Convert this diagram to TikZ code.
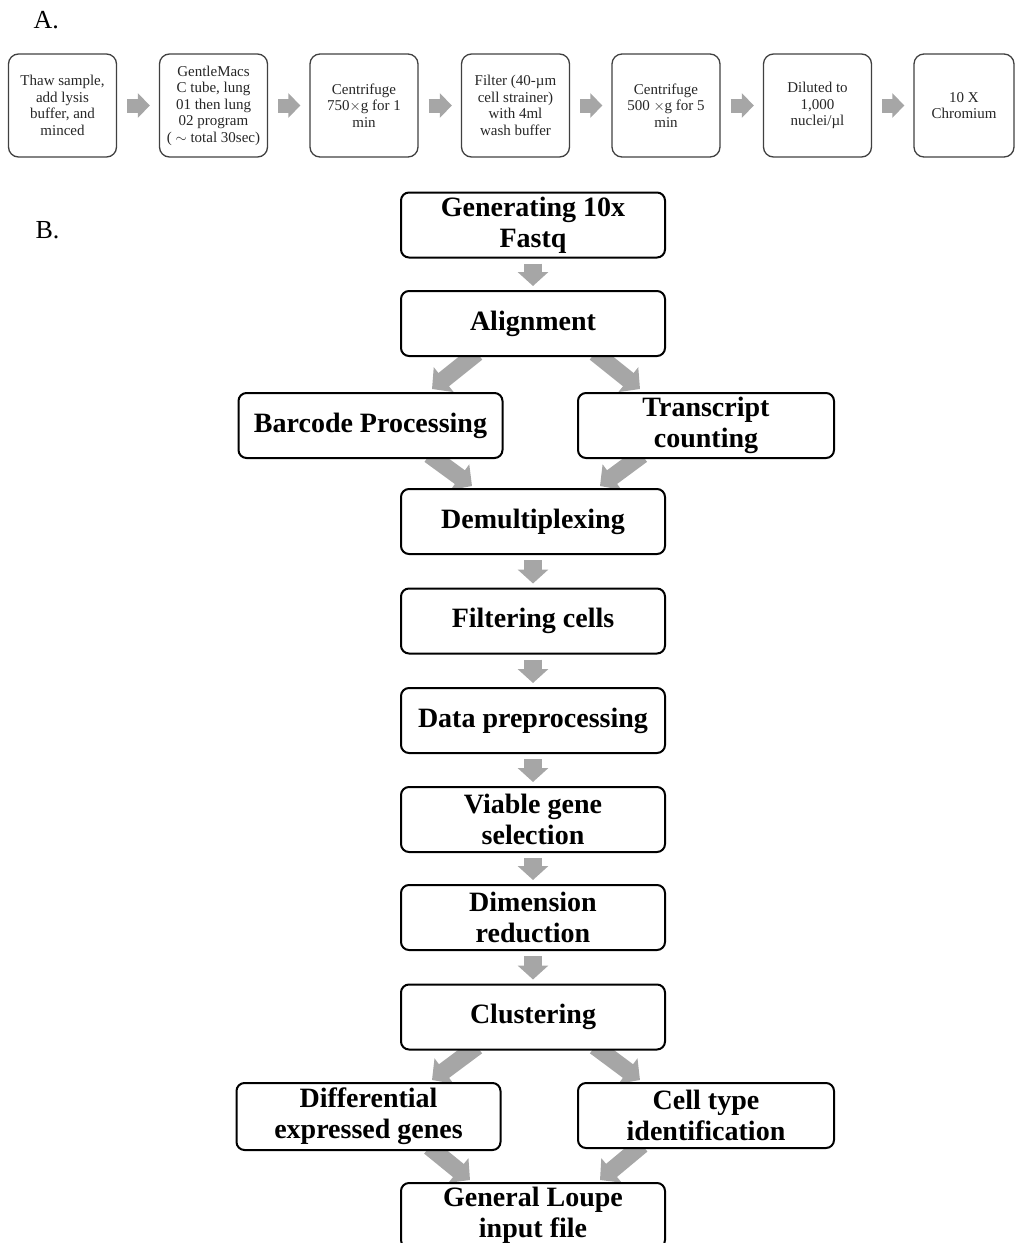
\documentclass[tikz,border=0pt]{standalone}
\usepackage{fontspec}
\setmainfont{Liberation Serif}
\usepackage{tikz}
\usetikzlibrary{arrows.meta,positioning,backgrounds}
\definecolor{arrgray}{RGB}{166,166,166}
\definecolor{prepline}{RGB}{64,64,64}
\definecolor{preptext}{RGB}{38,38,38}
\tikzset{
  prep/.style={draw=prepline, line width=1.3pt, rounded corners=10pt,
               minimum width=108pt, minimum height=103pt, inner sep=0pt,
               align=center, text=preptext, font=\fontsize{15}{16.5}\selectfont},
  flow/.style={draw=black, line width=2pt, rounded corners=8pt, fill=white,
               minimum width=264pt, minimum height=65pt, inner sep=0pt,
               align=center, font=\fontsize{28}{31}\selectfont\bfseries},
  harr/.style={-{Triangle[length=12pt,width=24pt]}, line width=14pt, arrgray,
               shorten <=10pt, shorten >=9pt},
  varr/.style={-{Triangle[length=14pt,width=30pt]}, line width=18pt, arrgray,
               shorten <=5pt, shorten >=4pt},
  darr/.style={-{Triangle[length=15pt,width=31pt]}, line width=17pt, arrgray},
  plab/.style={font=\fontsize{26}{30}\selectfont, anchor=base west},
}

\begin{document}
\begin{tikzpicture}[x=1pt, y=-1pt]
  \useasboundingbox (0,0) rectangle (1016,1243);

  % A. nuclei preparation
  \node[plab] (labA) at (30,28) {A.};
  \node[prep] (thaw) at (62.5,105.5) {Thaw sample,\\add lysis\\buffer, and\\minced};
  \node[prep] (gmacs) at (213.5,105.5) {GentleMacs\\C tube, lung\\01 then lung\\02 program\\( $\sim$ total 30sec)};
  \node[prep] (cfa) at (364,105.5) {Centrifuge\\750$\times$g for 1\\min};
  \node[prep] (filt) at (515.5,105.5) {Filter (40-µm\\cell strainer)\\with 4ml\\wash buffer};
  \node[prep] (cfb) at (666,105.5) {Centrifuge\\500 $\times$g for 5\\min};
  \node[prep] (dil) at (817.5,105.5) {Diluted to\\1,000\\nuclei/µl};
  \node[prep, minimum width=100pt] (chrom) at (964,105.5) {10 X\\Chromium};
  \draw[harr] (thaw.east) -- (gmacs.west);
  \draw[harr] (gmacs.east) -- (cfa.west);
  \draw[harr] (cfa.east) -- (filt.west);
  \draw[harr] (filt.east) -- (cfb.west);
  \draw[harr] (cfb.east) -- (dil.west);
  \draw[harr] (dil.east) -- (chrom.west);

  % B. analysis pipeline
  \node[plab] (labB) at (32,238) {B.};
  \node[flow] (fastq) at (533,225) {Generating 10x\\Fastq};
  \node[flow] (align) at (533,323.5) {Alignment};
  \node[flow] (barc) at (370.5,425.5) {Barcode Processing};
  \node[flow, minimum width=256pt] (trans) at (706,425.5) {Transcript\\counting};
  \node[flow] (demux) at (533,521.5) {Demultiplexing};
  \node[flow] (fcell) at (533,621) {Filtering cells};
  \node[flow] (dprep) at (533,720.5) {Data preprocessing};
  \node[flow] (viab) at (533,819.5) {Viable gene\\selection};
  \node[flow] (dimr) at (533,917.5) {Dimension\\reduction};
  \node[flow] (clust) at (533,1017) {Clustering};
  \node[flow, minimum height=67pt] (deg) at (368.5,1116.5) {Differential\\expressed genes};
  \node[flow, minimum width=256pt] (ctype) at (706,1115.5) {Cell type\\identification};
  \node[flow] (loupe) at (533,1215.5) {General Loupe\\input file};

  \draw[varr] (fastq.south) -- (align.north);
  \draw[varr] (demux.south) -- (fcell.north);
  \draw[varr] (fcell.south) -- (dprep.north);
  \draw[varr] (dprep.south) -- (viab.north);
  \draw[varr] (viab.south) -- (dimr.north);
  \draw[varr] (dimr.south) -- (clust.north);

  \begin{scope}[on background layer]
    \draw[darr] ([xshift=-56pt,yshift=4pt]align.south) -- ([xshift=61.5pt,yshift=3pt]barc.north);
    \draw[darr] ([xshift=62pt,yshift=4pt]align.south) -- ([xshift=-66pt,yshift=3pt]trans.north);
    \draw[darr] ([xshift=59pt,yshift=4pt]barc.south) -- ([xshift=-61pt,yshift=2pt]demux.north);
    \draw[darr] ([xshift=-64pt,yshift=4pt]trans.south) -- ([xshift=67pt,yshift=2pt]demux.north);
    \draw[darr] ([xshift=-56pt,yshift=4pt]clust.south) -- ([xshift=63.5pt,yshift=2pt]deg.north);
    \draw[darr] ([xshift=62pt,yshift=4pt]clust.south) -- ([xshift=-66pt,yshift=2pt]ctype.north);
    \draw[darr] ([xshift=61pt,yshift=4pt]deg.south) -- ([xshift=-63pt,yshift=2pt]loupe.north);
    \draw[darr] ([xshift=-64pt,yshift=4pt]ctype.south) -- ([xshift=67pt,yshift=2pt]loupe.north);
  \end{scope}
\end{tikzpicture}
\end{document}
